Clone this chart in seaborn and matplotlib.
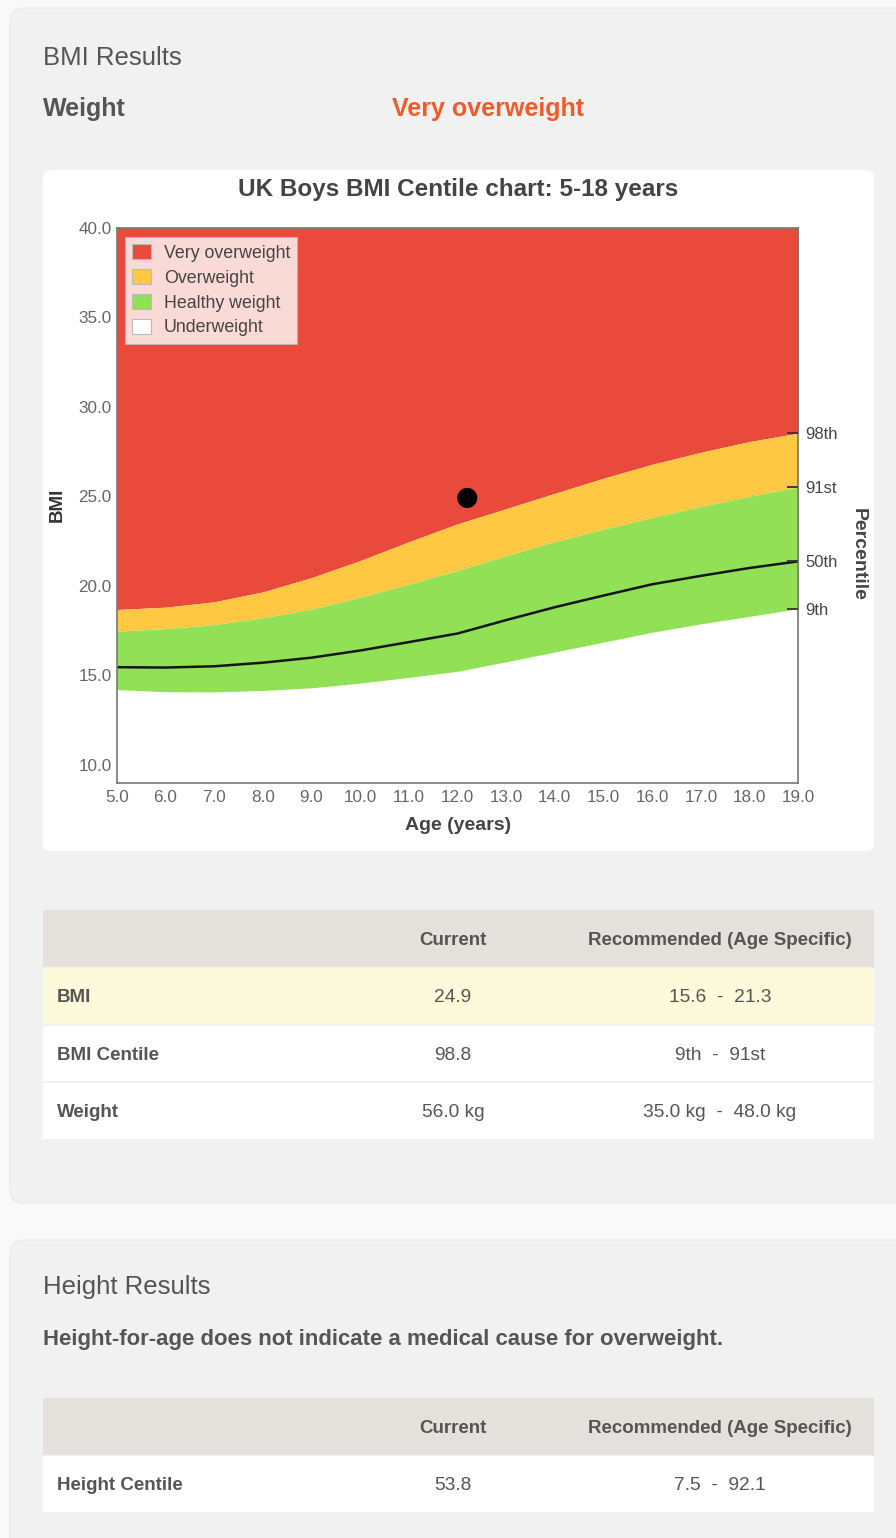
import matplotlib
matplotlib.use("Agg")
import matplotlib.pyplot as plt
import seaborn as sns
from matplotlib.patches import FancyBboxPatch, Rectangle, Patch

# Centile curves (BMI, kg/m^2) by age in years
ages = [5, 6, 7, 8, 9, 10, 11, 12, 13, 14, 15, 16, 17, 18, 19]
p98 = [18.67, 18.80, 19.10, 19.65, 20.45, 21.40, 22.45, 23.45, 24.30, 25.16, 26.00, 26.78, 27.45, 28.05, 28.52]
p91 = [17.46, 17.60, 17.83, 18.20, 18.69, 19.35, 20.08, 20.85, 21.67, 22.46, 23.15, 23.80, 24.42, 24.99, 25.51]
p50 = [15.45, 15.43, 15.50, 15.70, 15.98, 16.38, 16.85, 17.33, 18.08, 18.80, 19.45, 20.08, 20.55, 20.99, 21.36]
p9 = [14.20, 14.08, 14.07, 14.15, 14.30, 14.56, 14.88, 15.22, 15.75, 16.30, 16.85, 17.40, 17.87, 18.29, 18.72]
centile_labels = ["98th", "91st", "50th", "9th"]

# The child's measurement
child_age = [12.2]
child_bmi = [24.9]

band_names = ["Very overweight", "Overweight", "Healthy weight", "Underweight"]
x_ticks = [5, 6, 7, 8, 9, 10, 11, 12, 13, 14, 15, 16, 17, 18, 19]
y_ticks = [10, 15, 20, 25, 30, 35, 40]

# Result tables
table_cols = ["", "Current", "Recommended (Age Specific)"]
bmi_rows = [
    ["BMI", "24.9", "15.6  -  21.3"],
    ["BMI Centile", "98.8", "9th  -  91st"],
    ["Weight", "56.0 kg", "35.0 kg  -  48.0 kg"],
]
height_rows = [["Height Centile", "53.8", "7.5  -  92.1"]]

RED, YELLOW, GREEN = "#e94a3c", "#fec843", "#92e055"
TXT = "#555555"

sns.set_theme(style="white")
plt.rcParams["font.family"] = ["Liberation Sans", "DejaVu Sans"]

W, H = 896, 1538
fig = plt.figure(figsize=(W / 100, H / 100), dpi=100)
fig.patch.set_facecolor("#f9f9f9")

# page layer in pixel coordinates
bg = fig.add_axes([0, 0, 1, 1])
bg.set_xlim(0, W)
bg.set_ylim(H, 0)
bg.axis("off")
bg.set_zorder(0)


def rbox(x, y, w, h, fc, r=10, ec="none", lw=0):
    bg.add_patch(FancyBboxPatch((x, y), w, h, boxstyle=f"round,pad=0,rounding_size={r}",
                                fc=fc, ec=ec, lw=lw))


# panels
rbox(10, 8, 910, 1195, "#f1f1f1", r=14, ec="#ebebeb", lw=1)
rbox(10, 1240, 910, 330, "#f1f1f1", r=14, ec="#ebebeb", lw=1)
# chart card
rbox(43, 170, 831, 681, "white", r=8)

bg.text(43, 65, "BMI Results", fontsize=18.5, color=TXT, va="baseline")
bg.text(43, 116, "Weight", fontsize=18, color=TXT, fontweight="bold", va="baseline")
bg.text(392, 116, "Very overweight", fontsize=18, color="#f15a29", fontweight="bold", va="baseline")

bg.text(458, 196, "UK Boys BMI Centile chart: 5-18 years", fontsize=17.5, color="#444444",
        fontweight="bold", ha="center", va="baseline")
bg.text(57, 505, "BMI", fontsize=13.5, color="#333333", fontweight="bold", rotation=90,
        ha="center", va="center")
bg.text(458, 826, "Age (years)", fontsize=14, color="#444444", fontweight="bold",
        ha="center", va="center")
bg.text(858, 554, "Percentile", fontsize=14, color="#444444", fontweight="bold", rotation=270,
        ha="center", va="center")


def draw_table(top, rows, highlight=None):
    x0, x1 = 43, 874
    rh = 57
    bg.add_patch(Rectangle((x0, top), x1 - x0, rh, fc="#e4e1dd", ec="none"))
    bg.text(453, top + rh / 2 + 6.5, table_cols[1], fontsize=13.5, color=TXT,
            fontweight="bold", ha="center", va="baseline")
    bg.text(720, top + rh / 2 + 6.5, table_cols[2], fontsize=13.5, color=TXT,
            fontweight="bold", ha="center", va="baseline")
    y = top + rh + 1
    for i, row in enumerate(rows):
        fc = "#fdf9db" if i == highlight else "white"
        bg.add_patch(Rectangle((x0, y), x1 - x0, rh - 1.5, fc=fc, ec="none"))
        cy = y + (rh - 1.5) / 2 + 6.5
        bg.text(57, cy, row[0], fontsize=13.5, color=TXT, fontweight="bold", va="baseline")
        bg.text(453, cy, row[1], fontsize=13.8, color=TXT, ha="center", va="baseline")
        bg.text(720, cy, row[2], fontsize=13.8, color=TXT, ha="center", va="baseline")
        y += rh + 0.5


draw_table(910, bmi_rows, highlight=0)

bg.text(43, 1294, "Height Results", fontsize=18.5, color=TXT, va="baseline")
bg.text(43, 1345, "Height-for-age does not indicate a medical cause for overweight.",
        fontsize=15.9, color=TXT, fontweight="bold", va="baseline")
draw_table(1398, height_rows)

# centile chart
L, R, T, B = 116.7, 798.3, 227.5, 782.7
ax = fig.add_axes([L / W, 1 - B / H, (R - L) / W, (B - T) / H])
ax.set_zorder(2)
ax.set_facecolor("white")
ax.set_xlim(5, 19)
ax.set_ylim(9, 40)

ax.fill_between(ages, p98, 40, color=RED, lw=0)
ax.fill_between(ages, p91, p98, color=YELLOW, lw=0)
ax.fill_between(ages, p9, p91, color=GREEN, lw=0)
sns.lineplot(x=ages, y=p50, ax=ax, color="#151515", lw=1.8)
sns.scatterplot(x=child_age, y=child_bmi, ax=ax, color="black", s=210, edgecolor="none", zorder=5)

ax.set_xticks(x_ticks)
ax.set_xticklabels([f"{v:.1f}" for v in x_ticks])
ax.set_yticks(y_ticks)
ax.set_yticklabels([f"{v:.1f}" for v in y_ticks])
ax.tick_params(length=0, labelsize=12.3, labelcolor="#666666")
ax.tick_params(axis="x", pad=5)
ax.tick_params(axis="y", pad=3.5)
ax.set_xlabel("")
ax.set_ylabel("")
for s in ax.spines.values():
    s.set_visible(True)
    s.set_color("#777777")
    s.set_linewidth(1.2)

# centile markers on the right edge
ax2 = ax.twinx()
ax2.set_ylim(ax.get_ylim())
ax2.set_yticks([p98[-1], p91[-1], p50[-1], p9[-1]])
ax2.set_yticklabels(centile_labels)
ax2.tick_params(axis="y", direction="in", length=8, width=1.3, color="#333333",
                labelsize=12, labelcolor="#444444", pad=5)
for s in ax2.spines.values():
    s.set_visible(False)

handles = [Patch(fc=c, ec="#bbbbbb", lw=0.8) for c in [RED, YELLOW, GREEN, "white"]]
leg = ax.legend(handles, band_names, loc="upper left", bbox_to_anchor=(0.012, 0.983),
                borderaxespad=0, fontsize=12.8, frameon=True, fancybox=False,
                framealpha=0.8, facecolor="white", edgecolor="#bbbbbb",
                handlelength=1.05, handleheight=0.95, handletextpad=0.75,
                labelspacing=0.4, borderpad=0.4)
leg.get_frame().set_linewidth(0.8)
for t in leg.get_texts():
    t.set_color("#444444")
leg.set_zorder(6)

fig.savefig("out.png", dpi=100, facecolor=fig.get_facecolor())
